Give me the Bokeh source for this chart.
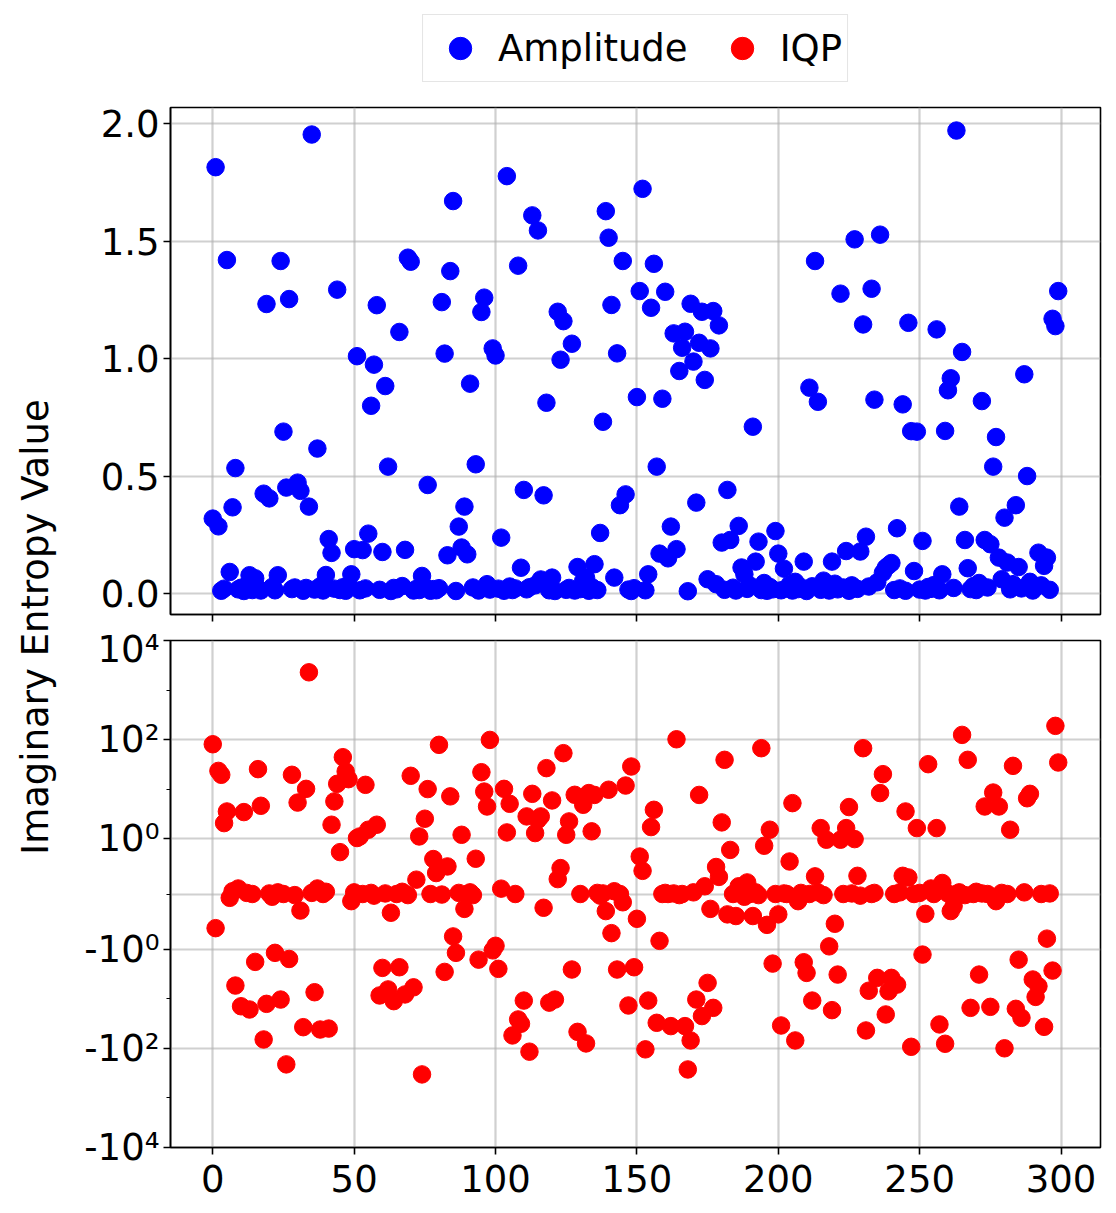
import math
from bokeh.plotting import figure
from bokeh.models import (ColumnDataSource, Range1d, FixedTicker, Legend, LegendItem, Div,
                          CustomJSTransform, CustomJSTickFormatter, PrintfTickFormatter)
from bokeh.transform import transform
from bokeh.layouts import row, column
from bokeh.embed import file_html
from bokeh.resources import INLINE

# ---------------- data ----------------
x_index = list(range(300))

amplitude = [
    0.319, 1.814, 0.286, 0.012, 0.021, 1.419, 0.092, 0.367, 0.534, 0.018,
    0.025, 0.011, 0.035, 0.078, 0.015, 0.065, 0.022, 0.013, 0.425, 1.232,
    0.405, 0.028, 0.014, 0.078, 1.415, 0.689, 0.451, 1.253, 0.019, 0.026,
    0.472, 0.437, 0.012, 0.024, 0.370, 1.953, 0.017, 0.617, 0.031, 0.013,
    0.079, 0.232, 0.173, 0.021, 1.293, 0.015, 0.027, 0.012, 0.036, 0.082,
    0.189, 1.010, 0.014, 0.185, 0.022, 0.255, 0.799, 0.974, 1.227, 0.016,
    0.177, 0.883, 0.540, 0.011, 0.024, 0.018, 1.113, 0.032, 0.186, 1.429,
    1.412, 0.013, 0.020, 0.015, 0.075, 0.028, 0.462, 0.012, 0.019, 0.014,
    0.023, 1.240, 1.021, 0.163, 1.372, 1.670, 0.011, 0.285, 0.196, 0.370,
    0.167, 0.893, 0.026, 0.550, 0.013, 1.198, 1.259, 0.040, 0.017, 1.043,
    1.013, 0.021, 0.238, 0.012, 1.776, 0.030, 0.015, 0.022, 1.395, 0.110,
    0.441, 0.018, 0.027, 1.609, 0.035, 1.545, 0.060, 0.418, 0.812, 0.014,
    0.068, 0.011, 1.199, 0.995, 1.159, 0.016, 0.024, 1.063, 0.013, 0.113,
    0.019, 0.054, 0.068, 0.012, 0.028, 0.125, 0.015, 0.258, 0.731, 1.627,
    1.514, 1.228, 0.068, 1.022, 0.376, 1.415, 0.422, 0.017, 0.011, 0.023,
    0.836, 1.287, 1.722, 0.014, 0.082, 1.216, 1.403, 0.540, 0.170, 0.829,
    1.284, 0.150, 0.285, 1.107, 0.189, 0.947, 1.046, 1.114, 0.010, 1.233,
    0.987, 0.387, 1.067, 1.199, 0.909, 0.061, 1.043, 1.202, 0.040, 1.141,
    0.217, 0.016, 0.441, 0.228, 0.025, 0.013, 0.288, 0.111, 0.082, 0.020,
    0.034, 0.710, 0.136, 0.221, 0.015, 0.045, 0.012, 0.028, 0.018, 0.266,
    0.170, 0.014, 0.106, 0.022, 0.038, 0.013, 0.050, 0.019, 0.027, 0.136,
    0.011, 0.876, 0.031, 1.415, 0.816, 0.016, 0.055, 0.024, 0.013, 0.136,
    0.042, 0.018, 1.276, 0.026, 0.181, 0.012, 0.035, 1.507, 0.020, 0.179,
    1.145, 0.242, 0.030, 1.297, 0.825, 0.048, 1.527, 0.089, 0.110, 0.120,
    0.130, 0.015, 0.278, 0.022, 0.805, 0.012, 1.152, 0.691, 0.096, 0.689,
    0.017, 0.224, 0.013, 0.028, 0.020, 0.036, 1.124, 0.014, 0.082, 0.692,
    0.865, 0.916, 0.024, 1.970, 0.370, 1.028, 0.228, 0.108, 0.019, 0.032,
    0.015, 0.045, 0.819, 0.228, 0.026, 0.210, 0.540, 0.666, 0.153, 0.061,
    0.323, 0.132, 0.018, 0.040, 0.376, 0.113, 0.022, 0.933, 0.500, 0.050,
    0.013, 0.027, 0.174, 0.035, 0.118, 0.153, 0.016, 1.169, 1.138, 1.287,
]

iqp = [
    81.0, -0.62, 23.5, 19.6, 2.08, 3.57, -0.07, 0.05, -5.43, 0.10,
    -14.2, 3.47, 0.02, -16.5, 0.0, -1.81, 25.5, 4.65, -66.4, -12.7,
    0.01, -0.05, -1.19, 0.03, -10.4, 0.0, -211.0, -1.58, 19.6, -0.02,
    5.4, -0.30, -37.5, 10.2, 2285.0, 0.02, -7.4, 0.10, -41.8, 0.0,
    0.04, -40.0, 1.93, 5.7, 12.9, 0.76, 44.4, 22.9, 16.0, -0.13,
    0.03, 1.04, 1.12, 0.0, 12.3, 1.53, 0.02, -0.03, 1.93, -8.6,
    -2.39, 0.01, -6.5, -0.34, -11.2, 0.0, -2.32, 0.04, -8.2, -0.02,
    18.7, -5.9, 0.26, 1.12, -336.0, 2.55, 10.1, 0.0, 0.634, 0.38,
    78.7, -0.01, -2.88, 0.50, 7.2, -0.77, -1.19, 0.02, 1.21, -0.27,
    0.0, 0.03, -0.02, 0.64, -1.63, 22.1, 9.0, 4.5, 99.0, -1.06,
    -0.94, -2.5, 0.097, 10.2, 1.35, 5.1, -55.0, 0.0, -26.2, -32.0,
    -10.9, 2.84, -117.0, 8.1, 1.31, 2.43, 2.84, -0.25, 26.7, -12.0,
    5.96, -10.4, 0.27, 0.47, 53.5, 1.21, 2.25, -2.58, 7.74, -46.6,
    0.0, 4.87, -79.8, 8.4, 1.42, 7.7, 0.02, -0.03, 0.01, -0.31,
    9.8, -0.71, 0.05, -2.58, 0.0, -0.15, 11.9, -13.7, 28.8, -2.32,
    -0.45, 0.68, 0.42, -105.0, -10.9, 1.73, 3.86, -30.6, -0.85, 0.0,
    0.02, 0.0, -35.7, 0.01, 102.0, -0.02, 0.0, -35.7, -267.0, -69.5,
    0.03, -10.4, 7.7, -22.4, 0.14, -4.8, -0.27, -15.3, 0.49, 0.31,
    2.15, 39.3, -0.37, 0.80, 0.0, -0.40, 0.14, 0.02, -0.05, 0.21,
    0.0, -0.40, 0.03, -0.02, 67.4, 0.876, -0.56, 1.53, -1.96, 0.0,
    -0.37, -34.7, 0.01, 0.0, 0.59, 5.26, -69.5, -0.13, 0.02, -1.84,
    -3.02, 0.0, -10.9, 0.32, 0.03, 1.65, -0.02, 0.985, -0.95, -17.0,
    -0.54, -3.26, 0.985, 0.0, 1.65, 4.38, 0.01, 0.996, 0.33, -0.03,
    67.4, -43.7, -6.9, 0.0, 0.02, -3.8, 8.4, 20.2, -20.8, -7.1,
    -3.8, 0.0, -5.2, 0.03, 0.33, 3.57, 0.30, -93.3, 0.0, 1.65,
    0.02, -1.29, -0.36, 32.1, 0.10, 0.0, 1.65, -33.0, 0.20, -81.0,
    0.01, -0.31, -0.22, 0.0, 0.03, 125.0, -0.02, 39.3, -15.3, 0.0,
    0.04, -3.26, 0.01, 4.5, 0.0, -14.6, 8.6, -0.13, 4.5, 0.02,
    -100.0, 0.0, 1.53, 29.7, -16.0, -1.63, -24.3, 0.03, 6.6, 8.1,
    -4.1, -9.2, -5.6, 0.0, -36.9, -0.81, 0.01, -2.71, 190.0, 34.7,
]

series_labels = ["Amplitude", "IQP"]
series_colors = ["#0000ff", "#ff0000"]
y_label = "Imaginary Entropy Value"
x_ticks = [0, 50, 100, 150, 200, 250, 300]
amp_ticks = [0.0, 0.5, 1.0, 1.5, 2.0]
iqp_major_ticks = [-1e4, -1e2, -1.0, 1.0, 1e2, 1e4]
iqp_minor_ticks = [-1e3, -10.0, 0.0, 10.0, 1e3]
iqp_limits = [-1e4, 1e4]

# ---------------- symlog scale (linthresh=1, linscale=1, base=10) ----------------
THR, LSCALE, BASE = 1.0, 1.0, 10.0
ADJ = LSCALE / (1.0 - 1.0 / BASE)


def symlog(v):
    a = abs(v)
    if a <= THR:
        return v * ADJ
    return math.copysign(THR * (ADJ + math.log(a / THR, BASE)), v)


symlog_tf = CustomJSTransform(
    args=dict(thr=THR, lscale=LSCALE, base=BASE),
    func="""
        const adj = lscale / (1 - 1/base);
        const a = Math.abs(x);
        return a <= thr ? x*adj : Math.sign(x)*thr*(adj + Math.log(a/thr)/Math.log(base));
    """,
    v_func="""
        const adj = lscale / (1 - 1/base);
        const out = new Float64Array(xs.length);
        for (let i = 0; i < xs.length; i++) {
            const v = xs[i];
            const a = Math.abs(v);
            out[i] = a <= thr ? v*adj : Math.sign(v)*thr*(adj + Math.log(a/thr)/Math.log(base));
        }
        return out;
    """,
)

src = ColumnDataSource(dict(x=x_index, amplitude=amplitude, iqp=iqp))

FONT = "DejaVu Sans"
FS = "37px"
MARKER = 17.5
x_range = Range1d(-14.95, 313.95)


def style(p):
    p.outline_line_color = "black"
    p.outline_line_width = 1.6
    p.background_fill_color = "white"
    p.border_fill_color = "white"
    for ax in p.axis:
        ax.axis_line_color = "black"
        ax.axis_line_width = 1.6
        ax.major_tick_line_color = "black"
        ax.major_tick_line_width = 1.6
        ax.major_tick_out = 7
        ax.major_tick_in = 0
        ax.minor_tick_line_color = "black"
        ax.minor_tick_line_width = 1.2
        ax.minor_tick_out = 4
        ax.minor_tick_in = 0
        ax.major_label_text_font = FONT
        ax.major_label_text_font_size = FS
        ax.major_label_text_color = "black"
    for g in p.grid:
        g.grid_line_color = "#b0b0b0"
        g.grid_line_alpha = 0.6
        g.grid_line_width = 2.2


# ---------------- legend strip ----------------
pl = figure(frame_width=930, frame_height=93, x_range=Range1d(0, 1), y_range=Range1d(0, 1),
            toolbar_location=None, output_backend="svg",
            x_axis_location=None, y_axis_location=None,
            min_border_left=102, min_border_right=8, min_border_top=0, min_border_bottom=0)
pl.outline_line_color = None
pl.grid.visible = False
leg_a = pl.scatter(x="x", y="amplitude", source=src, size=MARKER,
                   fill_color=series_colors[0], line_color=series_colors[0], visible=False)
leg_b = pl.scatter(x="x", y="iqp", source=src, size=MARKER,
                   fill_color=series_colors[1], line_color=series_colors[1], visible=False)
legend = Legend(items=[LegendItem(label=series_labels[0], renderers=[leg_a]),
                       LegendItem(label=series_labels[1], renderers=[leg_b])],
                orientation="horizontal", location="top_center", margin=14, padding=5,
                spacing=22, label_standoff=6, glyph_width=64, glyph_height=56,
                label_text_font=FONT, label_text_font_size=FS, label_text_color="black",
                border_line_color="#cccccc", border_line_width=1.5,
                background_fill_color="white", background_fill_alpha=1.0)
pl.add_layout(legend)

# ---------------- top panel: Amplitude ----------------
p1 = figure(frame_width=930, frame_height=507, x_range=x_range, y_range=Range1d(-0.089, 2.068),
            toolbar_location=None, output_backend="svg",
            min_border_left=102, min_border_right=8, min_border_top=14, min_border_bottom=13)
p1.scatter(x="x", y="amplitude", source=src, size=MARKER,
           fill_color=series_colors[0], line_color=series_colors[0])
p1.xaxis.ticker = FixedTicker(ticks=x_ticks, minor_ticks=[])
p1.yaxis.ticker = FixedTicker(ticks=amp_ticks, minor_ticks=[])
p1.yaxis.formatter = PrintfTickFormatter(format="%.1f")
style(p1)
# shared x axis: tick marks only on the upper panel
p1.xaxis.major_label_text_font_size = "1px"
p1.xaxis.major_label_text_color = None
p1.xaxis.major_label_standoff = 0
p1.yaxis.major_label_standoff = 4

# ---------------- bottom panel: IQP (symlog) ----------------
p2 = figure(frame_width=930, frame_height=507, x_range=x_range,
            y_range=Range1d(symlog(iqp_limits[0]), symlog(iqp_limits[1])),
            toolbar_location=None, output_backend="svg",
            min_border_left=102, min_border_right=8, min_border_top=13, min_border_bottom=55)
p2.scatter(x="x", y=transform("iqp", symlog_tf), source=src, size=MARKER,
           fill_color=series_colors[1], line_color=series_colors[1])
p2.xaxis.ticker = FixedTicker(ticks=x_ticks, minor_ticks=[])
p2.yaxis.ticker = FixedTicker(ticks=[symlog(t) for t in iqp_major_ticks],
                              minor_ticks=[symlog(t) for t in iqp_minor_ticks])
p2.yaxis.formatter = CustomJSTickFormatter(args=dict(adj=ADJ), code="""
    const a = Math.abs(tick);
    if (a < 1e-9) { return "0"; }
    const e = Math.round(a - adj);
    const sup = ["\u2070", "\u00b9", "\u00b2", "\u00b3", "\u2074", "\u2075"];
    return (tick < 0 ? "-" : "") + "10" + sup[e];
""")
style(p2)
p2.ygrid[0].ticker = FixedTicker(ticks=[symlog(t) for t in iqp_major_ticks] + [0.0])
p2.yaxis.major_label_standoff = 4
p2.xaxis.major_label_standoff = 10

# ---------------- shared y label ----------------
total_h = 93 + 534 + 580
ylab = Div(text=(
    '<div style="position:relative;width:68px;height:%dpx;">'
    '<span style="position:absolute;left:36px;top:627px;'
    'transform:translate(-50%%,-50%%) rotate(-90deg);white-space:nowrap;'
    'font-family:\'DejaVu Sans\';font-size:37px;color:black;">%s</span></div>'
) % (total_h, y_label), width=68, height=total_h, margin=0)

layout = row(ylab, column(pl, p1, p2))
open("out.html", "w").write(file_html(layout, INLINE))
